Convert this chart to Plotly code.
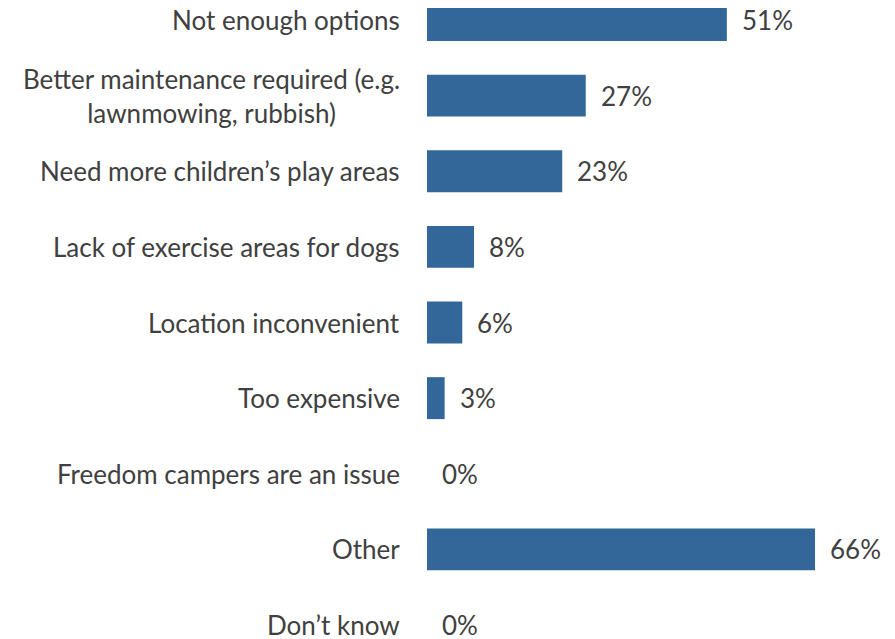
import plotly.graph_objects as go

categories = [
    "Not enough options",
    "Better maintenance required (e.g.<br>lawnmowing, rubbish)",
    "Need more children’s play areas",
    "Lack of exercise areas for dogs",
    "Location inconvenient",
    "Too expensive",
    "Freedom campers are an issue",
    "Other",
    "Don’t know",
]
values = [51, 27, 23, 8, 6, 3, 0, 66, 0]
value_labels = [f"{v}%" for v in values]

FONT = "Lato"
TXT = "#404040"
BAR = "#336699"
FS = 26

fig = go.Figure(go.Bar(
    x=values, y=categories, orientation="h",
    marker=dict(color=BAR, line=dict(width=0)),
    width=0.555, hoverinfo="skip",
))

ann = []
for c, v, t in zip(categories, values, value_labels):
    ann.append(dict(x=0, y=c, xref="paper", yref="y", text=c, showarrow=False,
                    xanchor="right", yanchor="middle", align="center", xshift=-25,
                    font=dict(family=FONT, size=FS, color=TXT)))
    ann.append(dict(x=v, y=c, xref="x", yref="y", text=t, showarrow=False,
                    xanchor="left", yanchor="middle", xshift=13,
                    font=dict(family=FONT, size=FS, color=TXT)))

fig.update_layout(
    width=887, height=631,
    margin=dict(l=419, r=0, t=0, b=0),
    paper_bgcolor="white", plot_bgcolor="white",
    showlegend=False,
    xaxis=dict(range=[0, 79.6], visible=False, fixedrange=True),
    yaxis=dict(range=[8.185, -0.1587], showticklabels=False, showgrid=False,
               zeroline=False, showline=False, ticks="", fixedrange=True),
    annotations=ann,
)
fig.write_html("out.html")
